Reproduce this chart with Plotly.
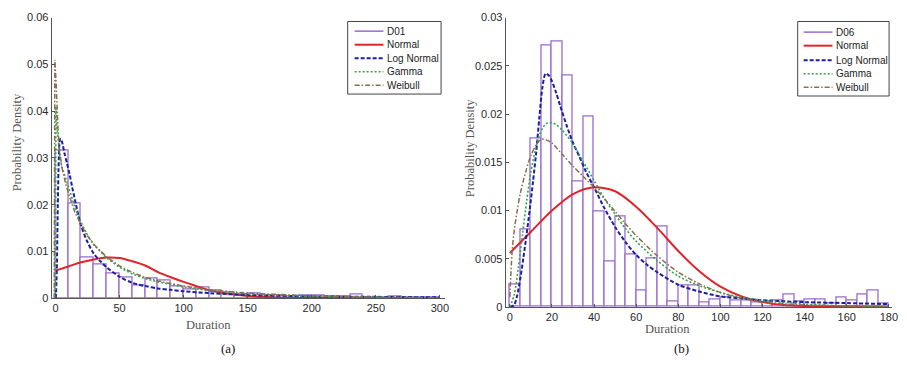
import plotly.graph_objects as go

W, H = 907, 372

# ---------------- Data: panel (a) D01 ----------------
a_bin_left = [0, 10, 20, 30, 40, 50, 60, 70, 80, 90, 100, 110, 120, 130, 140, 150, 160, 170, 180, 190,
              200, 210, 220, 230, 240, 250, 260, 270, 280, 290]
a_hist = [0.0315, 0.0202, 0.0086, 0.0072, 0.0052, 0.0045, 0.0027, 0.0041, 0.0038, 0.0024,
          0.0019, 0.0023, 0.0017, 0.0013, 0.0007, 0.0009, 0.0005, 0.0005, 0.0004, 0.0006,
          0.0006, 0.0003, 0.0003, 0.0008, 0.0002, 0.0001, 0.0003, 0.0001, 0.0001, 0.0002]

a_norm_x = [0, 10, 20, 30, 40, 50, 60, 70, 80, 90, 100, 110, 120, 130, 140, 150, 160, 180, 200, 250, 300]
a_norm_y = [0.0059, 0.0068, 0.0077, 0.0083, 0.0087, 0.0086, 0.0079, 0.0070, 0.0056, 0.0045, 0.0035,
            0.0026, 0.0017, 0.0012, 0.0008, 0.0005, 0.0003, 0.0001, 0.00003, 0.0, 0.0]

a_logn_x = [0.3, 1, 1.8, 2.6, 3.4, 4.2, 5.5, 7, 9, 11, 13, 16, 20, 25, 30, 35, 40, 50, 60, 70, 80, 90,
            100, 120, 150, 200, 250, 300]
a_logn_y = [0.0, 0.006, 0.020, 0.030, 0.0338, 0.0341, 0.0330, 0.0310, 0.0288, 0.0265, 0.0238, 0.0200,
            0.0155, 0.0120, 0.0095, 0.0079, 0.0066, 0.0046, 0.0033, 0.0026, 0.0021, 0.0018, 0.0015,
            0.0011, 0.0007, 0.0004, 0.0003, 0.0002]

a_gamma_x = [0, 0.3, 1, 2, 3.5, 5, 7.5, 10, 15, 20, 25, 30, 40, 50, 60, 70, 80, 90, 100, 120, 150, 200,
             250, 300]
a_gamma_y = [0.0, 0.041, 0.037, 0.034, 0.030, 0.028, 0.026, 0.0240, 0.0195, 0.0162, 0.0135, 0.0114,
             0.0086, 0.0066, 0.0052, 0.0042, 0.0035, 0.0029, 0.0024, 0.0016, 0.0009, 0.0004, 0.0002,
             0.0001]

a_weib_x = [-1, -0.5, 0.5, 1, 2, 3, 5, 7.5, 10, 15, 20, 25, 30, 40, 50, 60, 70, 80, 90, 100, 120, 150,
            200, 250, 300]
a_weib_y = [0.0, 0.051, 0.046, 0.041, 0.036, 0.032, 0.028, 0.025, 0.0225, 0.0185, 0.0157, 0.0133,
            0.0115, 0.0088, 0.0069, 0.0055, 0.0045, 0.0037, 0.0031, 0.0026, 0.0018, 0.0011, 0.0005,
            0.0002, 0.0001]

# ---------------- Data: panel (b) D06 ----------------
b_bin_left = [0, 5, 10, 15, 20, 25, 30, 35, 40, 45, 50, 55, 60, 65, 70, 75, 80, 85, 90, 95, 100, 105,
              110, 115, 120, 125, 130, 135, 140, 145, 150, 155, 160, 165, 170, 175]
b_hist = [0.0023, 0.0080, 0.0175, 0.0271, 0.0275, 0.0240, 0.0130, 0.0197, 0.0099, 0.0047, 0.0094,
          0.0054, 0.0017, 0.0050, 0.0083, 0.0006, 0.0022, 0.0022, 0.0005, 0.0008, 0.0010, 0.0007,
          0.0007, 0.0005, 0.0005, 0.0007, 0.0013, 0.0006, 0.0008, 0.0008, 0.0004, 0.0010, 0.0007,
          0.0013, 0.0017, 0.0004]

b_norm_x = [0, 10, 20, 30, 40, 50, 60, 70, 80, 90, 100, 110, 120, 130, 140, 160, 180]
b_norm_y = [0.0056, 0.0078, 0.0100, 0.0117, 0.0124, 0.0120, 0.0104, 0.0082, 0.0058, 0.0037, 0.0021,
            0.0011, 0.0005, 0.0002, 0.0001, 0.00002, 0.0]

b_logn_x = [0, 2, 3.5, 5, 6.5, 8, 9.5, 11, 12.5, 14, 15.5, 17, 18.5, 20, 22, 24, 27, 30, 33, 36, 40, 45,
            50, 55, 60, 65, 70, 80, 90, 100, 110, 120, 140, 160, 180]
b_logn_y = [0.0, 0.0002, 0.0012, 0.0030, 0.0052, 0.0076, 0.0102, 0.0130, 0.0160, 0.0196, 0.0228,
            0.0242, 0.0240, 0.0234, 0.0222, 0.0208, 0.0188, 0.0170, 0.0156, 0.0141, 0.0124, 0.0102,
            0.0083, 0.0067, 0.0054, 0.0044, 0.0036, 0.0023, 0.0016, 0.0011, 0.0009, 0.0007, 0.0005,
            0.0004, 0.0003]

b_gamma_x = [0, 2, 4, 6, 8, 10, 12, 14, 16, 18, 20, 22, 25, 30, 35, 40, 45, 50, 55, 60, 70, 80, 90,
             100, 110, 120, 140, 160, 180]
b_gamma_y = [0.0, 0.0012, 0.0040, 0.0075, 0.0110, 0.0140, 0.0162, 0.0178, 0.0187, 0.0191, 0.0191,
             0.0189, 0.0183, 0.0169, 0.0150, 0.0131, 0.0112, 0.0096, 0.0081, 0.0068, 0.0048, 0.0032,
             0.0022, 0.0015, 0.0010, 0.0007, 0.0003, 0.0001, 0.00005]

b_weib_x = [0, 1, 2, 3.5, 5, 7.5, 10, 12.5, 15, 17.5, 20, 25, 30, 35, 40, 45, 50, 55, 60, 70, 80, 90,
            100, 110, 120, 140, 160, 180]
b_weib_y = [0.0010, 0.0055, 0.0078, 0.0100, 0.0118, 0.0140, 0.0157, 0.0168, 0.0174, 0.0173, 0.0170,
            0.0158, 0.0146, 0.0135, 0.0124, 0.0112, 0.0099, 0.0086, 0.0074, 0.0053, 0.0036, 0.0024,
            0.0015, 0.0009, 0.0005, 0.0002, 0.0001, 0.00003]

a_ticks_x = [0, 50, 100, 150, 200, 250, 300]
a_ticks_y = [0, 0.01, 0.02, 0.03, 0.04, 0.05, 0.06]
a_ticks_y_text = ["0", "0.01", "0.02", "0.03", "0.04", "0.05", "0.06"]
b_ticks_x = [0, 20, 40, 60, 80, 100, 120, 140, 160, 180]
b_ticks_y = [0, 0.005, 0.01, 0.015, 0.02, 0.025, 0.03]
b_ticks_y_text = ["0", "0.005", "0.01", "0.015", "0.02", "0.025", "0.03"]

legend_names_a = ["D01", "Normal", "Log Normal", "Gamma", "Weibull"]
legend_names_b = ["D06", "Normal", "Log Normal", "Gamma", "Weibull"]

# ---------------- Styles ----------------
PURPLE = "#9B6BD0"
RED = "#E0242A"
BLUE = "#1C1FA0"
GREEN = "#2EA84E"
BROWN = "#8A6E4E"
SANS = "Liberation Sans, Arial, sans-serif"
SERIF = "Liberation Serif, Times New Roman, serif"

STY = {
    "hist": dict(color=PURPLE, dash="solid", width=1.5),
    "Normal": dict(color=RED, dash="solid", width=2),
    "Log Normal": dict(color=BLUE, dash="4px,2px", width=2),
    "Gamma": dict(color=GREEN, dash="2px,2px", width=1.6),
    "Weibull": dict(color=BROWN, dash="5px,2px,1.5px,2px", width=1.5),
}


def px_x(p):
    return p / W


def px_y(p):
    return 1 - p / H


fig = go.Figure()


def add_panel(xa, ya, bins, hist, bw, curves):
    fig.add_trace(go.Bar(x=bins, y=hist, width=bw, offset=0, xaxis=xa, yaxis=ya,
                         marker=dict(color="white", line=dict(color=PURPLE, width=1.3)),
                         showlegend=False, hoverinfo="skip"))
    for (cx, cy, nm, shape) in curves:
        s = STY[nm]
        fig.add_trace(go.Scatter(x=cx, y=cy, mode="lines", name=nm, xaxis=xa, yaxis=ya, showlegend=False,
                                 line=dict(color=s["color"], dash=s["dash"], width=s["width"],
                                           shape=shape, smoothing=0.8)))


add_panel("x", "y", a_bin_left, a_hist, 10, [
    (a_norm_x, a_norm_y, "Normal", "spline"),
    (a_logn_x, a_logn_y, "Log Normal", "spline"),
    (a_gamma_x, a_gamma_y, "Gamma", "linear"),
    (a_weib_x, a_weib_y, "Weibull", "linear"),
])
add_panel("x2", "y2", b_bin_left, b_hist, 5, [
    (b_norm_x, b_norm_y, "Normal", "spline"),
    (b_logn_x, b_logn_y, "Log Normal", "spline"),
    (b_gamma_x, b_gamma_y, "Gamma", "spline"),
    (b_weib_x, b_weib_y, "Weibull", "spline"),
])

axis_common = dict(showline=True, linecolor="#555", linewidth=1, ticks="inside", ticklen=3,
                   tickcolor="#555", showgrid=False, zeroline=False, mirror=False,
                   tickfont=dict(family=SANS, size=11, color="#2a2a2a"))

fig.update_layout(
    width=W, height=H, margin=dict(l=0, r=0, t=0, b=0),
    paper_bgcolor="white", plot_bgcolor="white",
    bargap=0, barmode="overlay", showlegend=False,
    xaxis=dict(domain=[px_x(52), px_x(448)], range=[-3, 304], anchor="y",
               tickvals=a_ticks_x, **axis_common),
    yaxis=dict(domain=[px_y(302), px_y(12)], range=[0, 0.06], anchor="x",
               tickvals=a_ticks_y, ticktext=a_ticks_y_text, **axis_common),
    xaxis2=dict(domain=[px_x(509), px_x(898)], range=[-2, 181.5], anchor="y2",
                tickvals=b_ticks_x, **axis_common),
    yaxis2=dict(domain=[px_y(311), px_y(12)], range=[0, 0.03], anchor="x2",
                tickvals=b_ticks_y, ticktext=b_ticks_y_text, **axis_common),
)

# ---------------- Manual legends (compact, like the original) ----------------
shapes = []
annotations = []


def add_legend(names, box, line_x0, line_x1, text_x, ys):
    x0, y0, x1, y1 = box
    shapes.append(dict(type="rect", xref="paper", yref="paper", x0=px_x(x0), x1=px_x(x1),
                       y0=px_y(y1), y1=px_y(y0), line=dict(color="#444", width=1), fillcolor="white",
                       layer="above"))
    for i, nm in enumerate(names):
        s = STY["hist"] if i == 0 else STY[nm]
        shapes.append(dict(type="line", xref="paper", yref="paper", x0=px_x(line_x0), x1=px_x(line_x1),
                           y0=px_y(ys[i]), y1=px_y(ys[i]), layer="above",
                           line=dict(color=s["color"], width=s["width"], dash=s["dash"])))
        annotations.append(dict(text=nm, x=px_x(text_x), y=px_y(ys[i]), xanchor="left", yanchor="middle",
                                font=dict(family=SANS, size=10, color="#222")))


add_legend(legend_names_a, (350, 16, 444, 91), 357, 386, 388, [26, 40, 54, 68, 82])
add_legend(legend_names_b, (803, 16, 895, 93), 809, 838, 840, [27, 41, 56, 70, 84])

ann_font = dict(family=SERIF, size=12.5, color="#555")
annotations += [
    dict(text="Probability Density", x=px_x(18), y=px_y(141), textangle=-90, font=ann_font,
         xanchor="center", yanchor="middle"),
    dict(text="Probability Density", x=px_x(473), y=px_y(147), textangle=-90, font=ann_font,
         xanchor="center", yanchor="middle"),
    dict(text="Duration", x=px_x(210), y=px_y(330), font=ann_font, xanchor="center", yanchor="middle"),
    dict(text="Duration", x=px_x(672), y=px_y(334), font=ann_font, xanchor="center", yanchor="middle"),
    dict(text="(a)", x=px_x(230), y=px_y(354), font=dict(family=SERIF, size=13, color="#111"),
         xanchor="center", yanchor="middle"),
    dict(text="(b)", x=px_x(686), y=px_y(354), font=dict(family=SERIF, size=13, color="#111"),
         xanchor="center", yanchor="middle"),
]
for a in annotations:
    a.update(xref="paper", yref="paper", showarrow=False)
fig.update_layout(annotations=annotations, shapes=shapes)

fig.write_html("out.html", config={"displayModeBar": False},
               post_script="document.body.style.margin='0';")
